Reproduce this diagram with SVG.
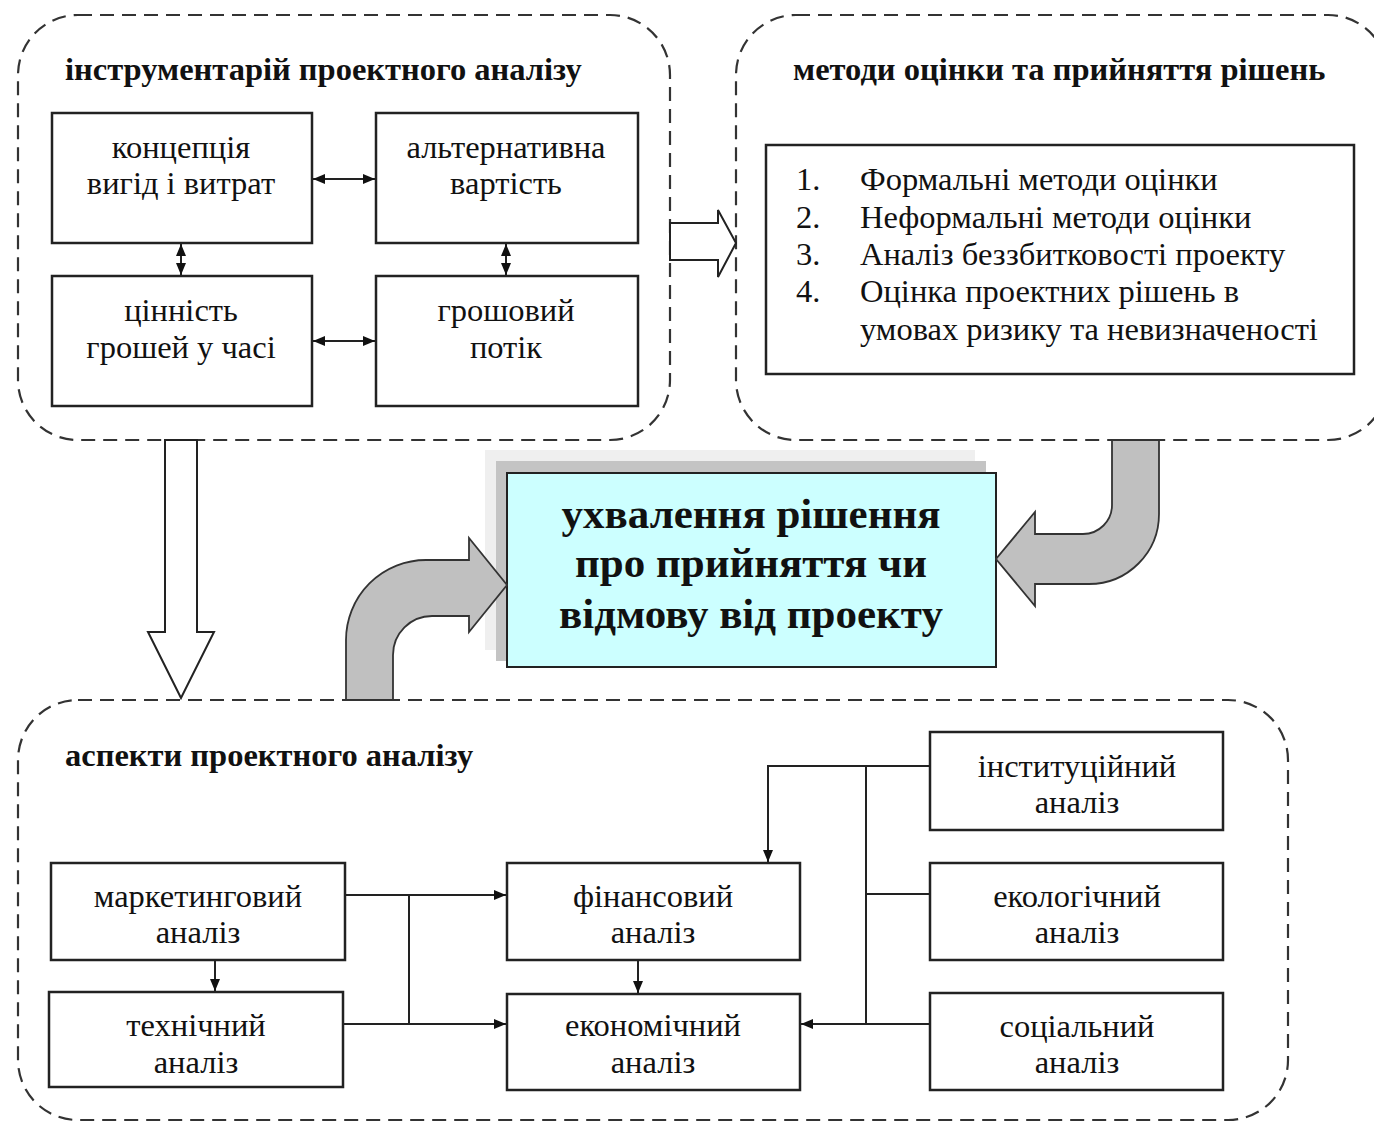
<svg xmlns="http://www.w3.org/2000/svg" width="1374" height="1124" viewBox="0 0 1374 1124">
<style>
.cont{fill:none;stroke:#333;stroke-width:2.2;stroke-dasharray:14 8}
.box{fill:#fff;stroke:#222;stroke-width:2.5}
.t{font-family:"Liberation Serif","Times New Roman",serif;font-size:32.5px;fill:#111}
.c{text-anchor:middle}
.h{font-family:"Liberation Serif","Times New Roman",serif;font-size:32.5px;font-weight:bold;fill:#111}
.big{font-family:"Liberation Serif","Times New Roman",serif;font-size:43px;font-weight:bold;fill:#111;text-anchor:middle}
.ln{fill:none;stroke:#222;stroke-width:2}
.hollow{fill:#fff;stroke:#222;stroke-width:2}
.gray{fill:#c0c0c0;stroke:#333;stroke-width:1.8}
</style>
<defs>
<marker id="ah" viewBox="0 0 12 10" refX="12" refY="5" markerWidth="12" markerHeight="10" markerUnits="userSpaceOnUse" orient="auto-start-reverse">
<path d="M0,0 L12,5 L0,10 z" fill="#111"/>
</marker>
</defs>

<g id="containers">
<rect id="tools" class="cont" x="18" y="15" width="652" height="425" rx="60" ry="60"/>
<rect id="methods" class="cont" x="736" y="15" width="652" height="425" rx="60" ry="60"/>
<rect id="aspects" class="cont" x="18" y="700" width="1270" height="420" rx="60" ry="60"/>
</g>

<g id="titles">
<text class="h" x="65" y="80">інструментарій проектного аналізу</text>
<text class="h" x="793" y="80">методи оцінки та прийняття рішень</text>
<text class="h" x="65" y="766">аспекти проектного аналізу</text>
</g>

<g id="n-koncepciya"><rect class="box" x="52" y="113" width="260" height="130"/>
<text class="t c" x="181" y="158">концепція</text><text class="t c" x="181" y="194">вигід і витрат</text></g>
<g id="n-alternatyvna"><rect class="box" x="376" y="113" width="262" height="130"/>
<text class="t c" x="506" y="158">альтернативна</text><text class="t c" x="506" y="194">вартість</text></g>
<g id="n-cinnist"><rect class="box" x="52" y="276" width="260" height="130"/>
<text class="t c" x="181" y="321">цінність</text><text class="t c" x="181" y="358">грошей у часі</text></g>
<g id="n-groshovyi"><rect class="box" x="376" y="276" width="262" height="130"/>
<text class="t c" x="506" y="321">грошовий</text><text class="t c" x="506" y="358">потік</text></g>

<g id="n-methods-list"><rect class="box" x="766" y="145" width="588" height="229"/>
<text class="t" x="796" y="190">1.</text><text class="t" x="860" y="190">Формальні методи оцінки</text>
<text class="t" x="796" y="228">2.</text><text class="t" x="860" y="228">Неформальні методи оцінки</text>
<text class="t" x="796" y="265">3.</text><text class="t" x="860" y="265">Аналіз беззбитковості проекту</text>
<text class="t" x="796" y="302">4.</text><text class="t" x="860" y="302">Оцінка проектних рішень в</text>
<text class="t" x="860" y="340">умовах ризику та невизначеності</text></g>

<g id="n-decision">
<rect x="485" y="450" width="490" height="200" fill="#efefef"/>
<rect x="496" y="461" width="490" height="200" fill="#c4c4c4"/>
<rect x="507" y="473" width="489" height="194" fill="#ccffff" stroke="#222" stroke-width="2"/>
<text class="big" x="751" y="528">ухвалення рішення</text>
<text class="big" x="751" y="577">про прийняття чи</text>
<text class="big" x="751" y="628">відмову від проекту</text>
</g>

<g id="n-marketing"><rect class="box" x="51" y="863" width="294" height="97"/>
<text class="t c" x="198" y="907">маркетинговий</text><text class="t c" x="198" y="943">аналіз</text></g>
<g id="n-technical"><rect class="box" x="49" y="992" width="294" height="95"/>
<text class="t c" x="196" y="1036">технічний</text><text class="t c" x="196" y="1073">аналіз</text></g>
<g id="n-financial"><rect class="box" x="507" y="863" width="293" height="97"/>
<text class="t c" x="653" y="907">фінансовий</text><text class="t c" x="653" y="943">аналіз</text></g>
<g id="n-economic"><rect class="box" x="507" y="994" width="293" height="96"/>
<text class="t c" x="653" y="1036">економічний</text><text class="t c" x="653" y="1073">аналіз</text></g>
<g id="n-institutional"><rect class="box" x="930" y="732" width="293" height="98"/>
<text class="t c" x="1077" y="777">інституційний</text><text class="t c" x="1077" y="813">аналіз</text></g>
<g id="n-ecological"><rect class="box" x="930" y="863" width="293" height="97"/>
<text class="t c" x="1077" y="907">екологічний</text><text class="t c" x="1077" y="943">аналіз</text></g>
<g id="n-social"><rect class="box" x="930" y="993" width="293" height="97"/>
<text class="t c" x="1077" y="1037">соціальний</text><text class="t c" x="1077" y="1073">аналіз</text></g>

<g id="connectors">
<line class="ln" x1="313" y1="179" x2="375" y2="179" marker-start="url(#ah)" marker-end="url(#ah)"/>
<line class="ln" x1="313" y1="341" x2="375" y2="341" marker-start="url(#ah)" marker-end="url(#ah)"/>
<line class="ln" x1="181" y1="244" x2="181" y2="275" marker-start="url(#ah)" marker-end="url(#ah)"/>
<line class="ln" x1="506" y1="244" x2="506" y2="275" marker-start="url(#ah)" marker-end="url(#ah)"/>
<path class="hollow" d="M670,223 L718,223 L718,210 L736,243 L718,277 L718,260 L670,260 Z"/>
<path class="hollow" d="M165,440 L197,440 L197,632 L214,632 L181,698 L148,632 L165,632 Z"/>
<path class="gray" d="M1112,440 L1112,505 A29,29 0 0 1 1083,534 L1035,534 L1035,512 L996,559 L1035,606 L1035,584 L1089,584 A70,70 0 0 0 1159,514 L1159,440 Z"/>
<path class="gray" d="M346,700 L346,640 A80,80 0 0 1 426,560 L469,560 L469,538 L507,585 L469,632 L469,616 L432,616 A39,39 0 0 0 393,655 L393,700 Z"/>
<path class="ln" d="M345,895 L506,895" marker-end="url(#ah)"/>
<path class="ln" d="M343,1024 L506,1024" marker-end="url(#ah)"/>
<path class="ln" d="M409,895 L409,1024"/>
<path class="ln" d="M215,960 L215,991" marker-end="url(#ah)"/>
<path class="ln" d="M638,960 L638,993" marker-end="url(#ah)"/>
<path class="ln" d="M930,766 L768,766 L768,862" marker-end="url(#ah)"/>
<path class="ln" d="M866,766 L866,1024"/>
<path class="ln" d="M930,894 L866,894"/>
<path class="ln" d="M930,1024 L801,1024" marker-end="url(#ah)"/>
</g>
</svg>
